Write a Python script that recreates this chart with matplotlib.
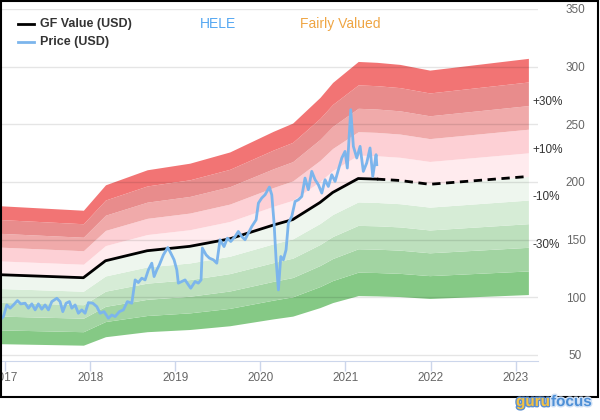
import matplotlib
matplotlib.use("Agg")
import matplotlib.pyplot as plt
import matplotlib.patheffects as pe
from matplotlib.lines import Line2D
from matplotlib.patches import Rectangle
import numpy as np

plt.rcParams['font.family'] = ['Liberation Sans', 'DejaVu Sans']

# GF Value (USD), decimal years
gf_years = [2016.94, 2017.92, 2018.18, 2018.67, 2019.17, 2019.64, 2020.15, 2020.38,
            2020.70, 2020.85, 2021.15, 2021.37, 2021.64, 2021.99, 2023.15]
gf_vals = [119.6, 117.0, 131.7, 140.4, 144.2, 150.7, 162.6, 167.4,
           182.2, 190.9, 203.0, 202.5, 201.3, 198.0, 204.8]
gf_solid_end = 2021.37

# Price (USD)
price_years = [2016.941, 2016.980, 2017.020, 2017.059, 2017.098, 2017.145, 2017.184, 2017.235,
               2017.274, 2017.314, 2017.353, 2017.391, 2017.431, 2017.470, 2017.509, 2017.549,
               2017.608, 2017.646, 2017.678, 2017.717, 2017.756, 2017.784, 2017.823, 2017.861,
               2017.901, 2017.940, 2017.979, 2018.031, 2018.078, 2018.116, 2018.163, 2018.214,
               2018.254, 2018.293, 2018.343, 2018.390, 2018.437, 2018.489, 2018.528, 2018.566,
               2018.606, 2018.645, 2018.684, 2018.724, 2018.751, 2018.783, 2018.813, 2018.860,
               2018.912, 2018.947, 2018.986, 2019.018, 2019.036, 2019.076, 2019.115, 2019.154,
               2019.182, 2019.233, 2019.271, 2019.303, 2019.318, 2019.362, 2019.401, 2019.448,
               2019.488, 2019.526, 2019.573, 2019.612, 2019.652, 2019.703, 2019.741, 2019.781,
               2019.820, 2019.859, 2019.899, 2019.950, 2019.977, 2020.016, 2020.055, 2020.106,
               2020.134, 2020.161, 2020.185, 2020.212, 2020.240, 2020.270, 2020.302, 2020.329,
               2020.369, 2020.408, 2020.447, 2020.487, 2020.525, 2020.564, 2020.604, 2020.643,
               2020.682, 2020.722, 2020.760, 2020.799, 2020.839, 2020.878, 2020.917, 2020.957,
               2020.995, 2021.022, 2021.062, 2021.093, 2021.133, 2021.172, 2021.210, 2021.250,
               2021.289, 2021.321, 2021.360, 2021.368]
price_vals = [80.4, 83.3, 93.4, 90.6, 93.4, 97.2, 94.3, 94.9,
              90.6, 94.3, 89.1, 94.3, 89.7, 93.4, 89.1, 96.3,
              99.2, 96.3, 87.6, 94.9, 96.3, 90.6, 93.4, 86.2,
              89.1, 86.2, 95.4, 94.9, 91.9, 86.2, 87.6, 81.9,
              84.7, 83.3, 87.6, 89.1, 96.3, 94.9, 115.1, 112.8,
              116.6, 115.1, 123.8, 129.6, 118.0, 123.8, 128.2, 136.8,
              143.2, 138.3, 132.5, 123.8, 112.3, 113.7, 115.1, 110.8,
              107.9, 113.7, 112.3, 115.1, 142.7, 136.8, 134.0, 132.5,
              129.6, 149.9, 144.0, 151.3, 148.4, 152.7, 157.1, 152.7,
              149.9, 155.7, 161.4, 167.2, 181.7, 186.1, 188.9, 195.6,
              188.9, 164.4, 132.5, 106.4, 135.4, 132.5, 141.2, 164.4,
              170.1, 183.1, 184.6, 187.5, 203.4, 193.3, 209.2, 202.0,
              197.6, 190.4, 202.0, 196.1, 206.3, 200.5, 210.6, 220.8,
              226.5, 212.1, 262.7, 230.9, 220.8, 230.9, 209.2, 216.5,
              229.5, 204.8, 223.7, 215.0]

band_mults = [0.5, 0.6, 0.7, 0.8, 0.9, 1.0, 1.1, 1.2, 1.3, 1.4, 1.5]
band_colors = ['#85c985', '#a2d4a2', '#bde0bd', '#d6ecd6', '#eef6ee',
               '#ffebee', '#fdd0d5', '#f0aaaa', '#e88c8c', '#f27474']
band_labels = ['+30%', '+10%', '-10%', '-30%']
band_label_vals = [269, 228, 187, 145]

year_ticks = [2017, 2018, 2019, 2020, 2021, 2022, 2023]
value_ticks = [50, 100, 150, 200, 250, 300, 350]

fig = plt.figure(figsize=(6, 4.2), dpi=100)
ax = fig.add_axes([0, 0.1405, 538 / 600, 0.9786 - 0.1405])

gx = np.array(gf_years)
gv = np.array(gf_vals)
for i, c in enumerate(band_colors):
    ax.fill_between(gx, gv * band_mults[i], gv * band_mults[i + 1], color=c, lw=0, zorder=1)

for v in value_ticks:
    ax.axhline(v, color=(0, 0, 0, 0.1), lw=1, zorder=2)

solid = gx <= gf_solid_end
dashed = gx >= gf_solid_end
ax.plot(gx[solid], gv[solid], color='black', lw=2, zorder=4)
ax.plot(gx[dashed], gv[dashed], color='black', lw=2, ls=(0, (3, 2)), zorder=4)
ax.plot(price_years, price_vals, color='#7cb5ec', lw=2, zorder=5)

for lab, v in zip(band_labels, band_label_vals):
    ax.text(2023.20, v, lab, fontsize=8.5, color='#333333', va='center', ha='left', zorder=6)

ax.set_xlim(2016.94, 2023.263)
ax.set_ylim(44.8, 350)
ax.set_xticks(year_ticks)
ax.set_xticklabels([str(y) for y in year_ticks])
ax.set_yticks(value_ticks)
ax.yaxis.tick_right()
ax.tick_params(axis='y', length=0, pad=27, labelsize=8.5, labelcolor='#666666')
for t in ax.get_yticklabels():
    t.set_horizontalalignment('center')
ax.tick_params(axis='x', length=7, width=1, color='#ccd6eb', labelsize=8.5,
               labelcolor='#666666', pad=1)
for s in ['top', 'left', 'right']:
    ax.spines[s].set_visible(False)
ax.spines['bottom'].set_color('#ccd6eb')

# legend and title texts
fig.add_artist(Line2D([18 / 600, 34 / 600], [1 - 24 / 420] * 2, color='black', lw=2))
fig.add_artist(Line2D([18 / 600, 34 / 600], [1 - 42 / 420] * 2, color='#7cb5ec', lw=2))
fig.text(40 / 600, 1 - 24 / 420, 'GF Value (USD)', fontsize=9, fontweight='bold',
         color='#333333', va='center')
fig.text(40 / 600, 1 - 42 / 420, 'Price (USD)', fontsize=9, fontweight='bold',
         color='#333333', va='center')
fig.text(200 / 600, 1 - 24 / 420, 'HELE', fontsize=10, color='#55a8f2', va='center')
fig.text(300 / 600, 1 - 24 / 420, 'Fairly Valued', fontsize=10, color='#efa543', va='center')

# frame
fig.add_artist(Rectangle((0.5 / 600, 1 - 397 / 420), 597.5 / 600, 396 / 420,
                         fill=False, ec='black', lw=1.5, transform=fig.transFigure))

# logo
fig.text(516 / 600, 1 - 402 / 420, 'guru', fontsize=11, fontweight='bold', color='#f5c242',
         va='center', path_effects=[pe.withStroke(linewidth=2, foreground='#5b8fd0')])
fig.text(551 / 600, 1 - 402 / 420, 'focus', fontsize=11, fontweight='bold', color='#4d8fd6',
         va='center', path_effects=[pe.withStroke(linewidth=2, foreground='#cfe0f5')])

fig.savefig('out.png', dpi=100)
